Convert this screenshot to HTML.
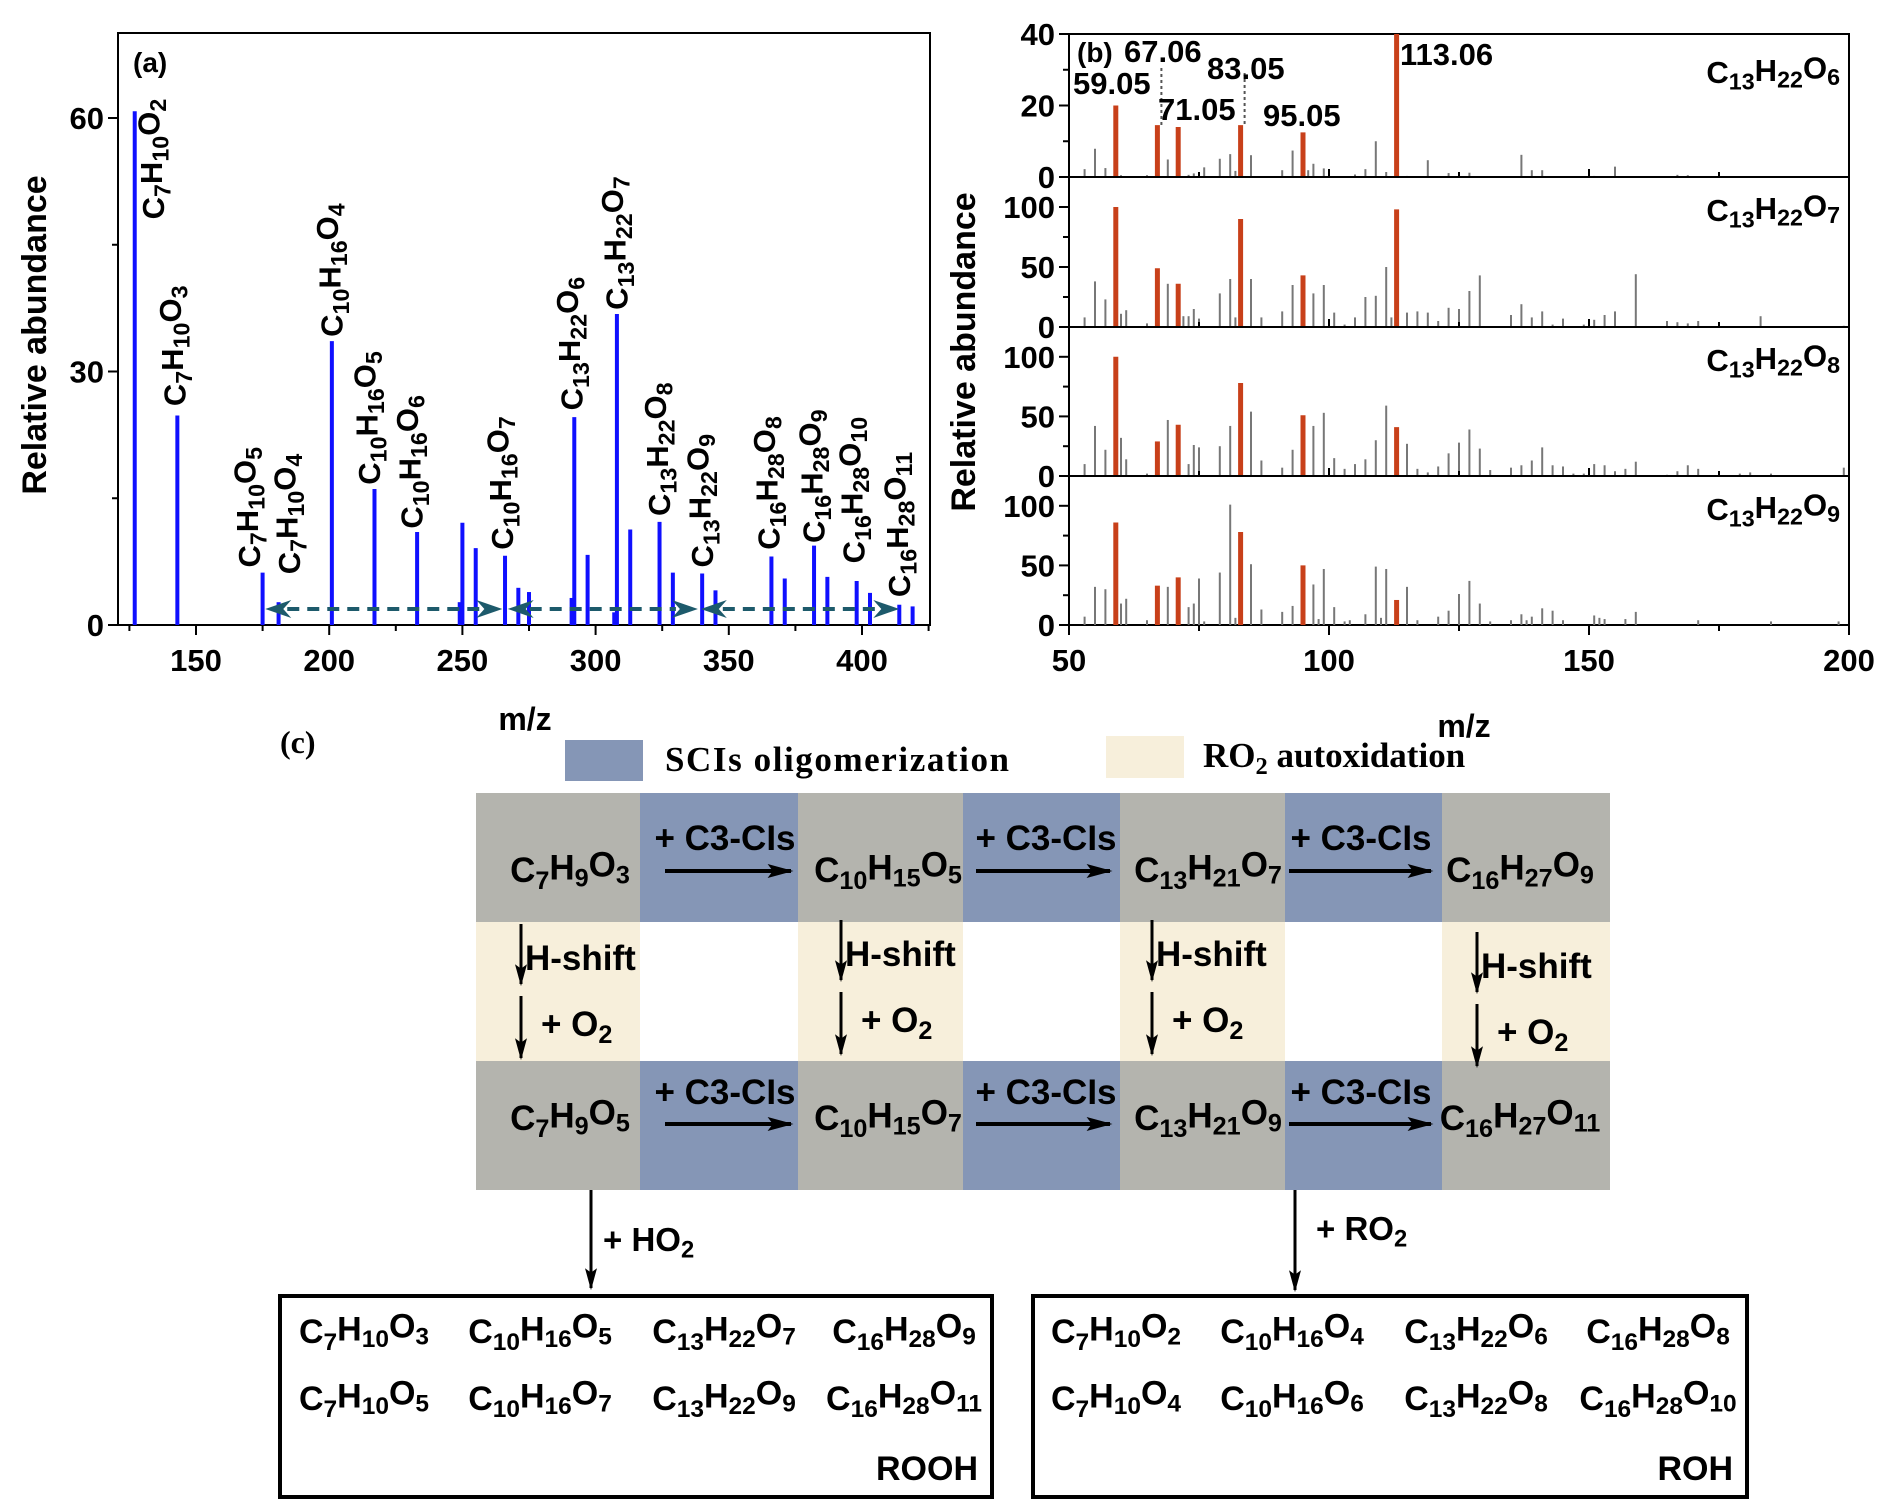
<!DOCTYPE html>
<html><head><meta charset="utf-8"><style>
html,body{margin:0;padding:0;background:#fff;}
svg{display:block;font-family:"Liberation Sans",Arial,sans-serif;}
</style></head><body>
<svg id="fig" width="1892" height="1511" viewBox="0 0 1892 1511" xmlns="http://www.w3.org/2000/svg">
<defs>
<marker id="ah" viewBox="0 0 10 10" refX="9" refY="5" markerWidth="26" markerHeight="14" preserveAspectRatio="none" orient="auto-start-reverse" markerUnits="userSpaceOnUse"><path d="M0,0 L10,5 L0,10 L2,5 z" fill="#000"/></marker>
<marker id="ahv" viewBox="0 0 10 10" refX="9" refY="5" markerWidth="22" markerHeight="12" preserveAspectRatio="none" orient="auto-start-reverse" markerUnits="userSpaceOnUse"><path d="M0,0 L10,5 L0,10 L2,5 z" fill="#000"/></marker>
</defs>
<g id="pa"></g>
<g id="pb"></g>
<g id="pc"></g>
</svg>
<script>
// ---------- Panel (a) data ----------
const aMz=[127,143,175,181,201,217,233,249,250,255,266,271,275,291,292,297,307,308,313,324,329,340,345,366,371,382,387,398,403,414,419];
const aVal=[60.8,24.8,6.2,2.7,33.6,16.1,11.0,2.7,12.1,9.1,8.2,4.4,3.9,3.2,24.6,8.3,1.5,36.8,11.3,12.2,6.2,6.1,4.1,8.1,5.5,9.4,5.7,5.2,3.8,2.4,2.2];
const aLabelText=["C7H10O2","C7H10O3","C7H10O5","C7H10O4","C10H16O4","C10H16O5","C10H16O6","C10H16O7","C13H22O6","C13H22O7","C13H22O8","C13H22O9","C16H28O8","C16H28O9","C16H28O10","C16H28O11"];
const aLabelMz=[138,146,174,189,205,219,235,269,295,312,328,344,369,386,401,418];
const aLabelVal=[48.0,25.9,6.8,6.0,34.1,16.6,11.4,8.9,25.4,37.3,12.9,6.8,8.9,9.7,7.3,3.3];
const aArrowFrom=[176,267,339.5];
const aArrowTo=[265,338.4,414];
const aArrowVal=1.9;
const aXTicks=[150,200,250,300,350,400];
const aYTicks=[0,30,60];
// ---------- Panel (b) data ----------
const bRedMz=[59,67,71,83,95,113];
const bRed1=[20,14.5,14,14.5,12.5,40];
const bRed2=[100,49,36,90,43,98];
const bRed3=[100,29,43,78,51,41];
const bRed4=[86,33,40,78,50,21];
const bGMz1=[53,55,57,60,65,69,73,74,76,79,81,82,85,91,93,96,97,99,105,107,109,111,115,119,123,125,127,137,139,141,151,155,167,169];
const bGVal1=[2.2,7.9,2.5,0.5,0.5,4.9,0.6,1,2.7,5.1,6.4,1.7,6.1,1.9,7.4,1.9,3.7,2.4,0.7,2.2,10,1.4,0.3,4.7,1.1,1.2,1.2,6.2,1.9,1.9,0.3,2.9,0.6,0.5];
const bGMz2=[53,55,57,60,61,65,69,72,73,74,75,79,81,82,85,87,91,93,97,99,101,103,105,107,109,111,112,115,117,119,121,123,125,127,129,135,137,139,141,143,145,149,151,153,155,159,165,167,169,171,183,199];
const bGVal2=[8,38,23,11,14,3,36,9,9,15,7,28,40,8,40,8,13,35,28,35,12,2,8,25,26,50,8,12,13,12,5,16,15,30,43,10,19,8,13,2,7,2,6,10,13,44,5,4,3,5,9,1];
const bGMz3=[53,55,57,60,61,65,69,73,74,75,79,81,85,87,91,93,97,99,101,103,105,107,109,111,115,117,119,121,123,125,127,129,131,135,137,139,141,143,145,147,149,151,153,155,157,159,165,167,169,171,175,179,181,185,199];
const bGVal3=[10,42,22,32,14,2,47,10,26,24,25,42,54,13,7,22,42,53,15,6,10,14,30,59,27,6,3,8,19,28,39,23,5,7,9,13,24,9,8,2,2,10,9,4,6,12,1,4,9,6,2,2,3,2,7];
const bGMz4=[53,55,57,60,61,65,69,73,74,75,76,79,81,82,85,87,91,93,97,98,99,101,103,104,107,109,110,111,115,117,121,123,125,127,129,131,135,137,138,139,141,143,145,151,152,153,157,159,171,185,198];
const bGVal4=[7,32,30,18,22,4,32,15,18,39,3,44,101,6,51,13,11,16,34,5,47,15,3,4,9,49,6,47,32,4,7,12,26,37,18,3,4,9,4,7,14,12,4,8,6,5,5,11,4,3,3];
const bNames=["C13H22O6","C13H22O7","C13H22O8","C13H22O9"];
const bPeakLabels=["59.05","67.06","71.05","83.05","95.05","113.06"];
const bXTicks=[50,100,150,200];

const NS="http://www.w3.org/2000/svg";
function mk(parent,tag,attrs){const e=document.createElementNS(NS,tag);for(const k in attrs)e.setAttribute(k,attrs[k]);parent.appendChild(e);return e;}
function formula(t,str,subScale){
  const parts=str.match(/[A-Za-z\-\+ ]+|\d+/g);
  let sub=false;
  parts.forEach(p=>{
    const ts=document.createElementNS(NS,'tspan');
    if(/^\d+$/.test(p)){
      ts.setAttribute('font-size',(subScale*100)+'%');
      ts.setAttribute('dy',sub?'0':'0.28em');
      sub=true;
    } else {
      if(sub){ts.setAttribute('dy','-0.28em');}
      sub=false;
    }
    ts.textContent=p;t.appendChild(ts);
  });
  if(sub){const ts=document.createElementNS(NS,'tspan');ts.setAttribute('dy','-0.28em');ts.textContent='\u200b';t.appendChild(ts);}
}

// ================= Panel A =================
(function(){
  const g=document.getElementById('pa');
  const L=118,R=930,T=33,B=625;
  const xA=m=>196+(m-150)*2.664;
  const yA=v=>B-v*8.45;
  mk(g,'rect',{x:L,y:T,width:R-L,height:B-T,fill:'none',stroke:'#000','stroke-width':2});
  [0,15,30,45,60].forEach(v=>{const major=aYTicks.includes(v);
    const tk=mk(g,'line',{x1:L,x2:L-(major?10:6),y1:yA(v),y2:yA(v),stroke:'#000','stroke-width':2});
    });
  aYTicks.forEach(v=>{const t=mk(g,'text',{x:L-14,y:yA(v)+11,'text-anchor':'end','font-size':31,'font-weight':'bold'});
    t.textContent=v;});
  for(let m=125;m<=425;m+=25){if(xA(m)<L||xA(m)>R)continue;const major=m%50===0;
    const tk=mk(g,'line',{x1:xA(m),x2:xA(m),y1:B,y2:B+(major?10:6),stroke:'#000','stroke-width':2});
    }
  aXTicks.forEach(m=>{const t=mk(g,'text',{x:xA(m),y:B+46,'text-anchor':'middle','font-size':31,'font-weight':'bold'});
    t.textContent=m;});
  aMz.forEach((m,i)=>{const b=mk(g,'line',{x1:xA(m),x2:xA(m),y1:B,y2:yA(aVal[i]),stroke:'#1010ff','stroke-width':4});
    });
  aArrowFrom.forEach((f,i)=>{const y=yA(aArrowVal),x1=xA(f),x2=xA(aArrowTo[i]);
    const l=mk(g,'line',{x1:x1+22,x2:x2-22,y1:y,y2:y,stroke:'#1d5a6b','stroke-width':4,'stroke-dasharray':'12,8'});
    
    mk(g,'path',{d:`M${x1},${y} L${x1+26},${y-9} L${x1+18},${y} L${x1+26},${y+9} Z`,fill:'#1d5a6b'});
    mk(g,'path',{d:`M${x2},${y} L${x2-26},${y-9} L${x2-18},${y} L${x2-26},${y+9} Z`,fill:'#1d5a6b'});
  });
  aLabelText.forEach((s,i)=>{const x=xA(aLabelMz[i]),y=yA(aLabelVal[i]);
    const t=mk(g,'text',{transform:`translate(${x},${y}) rotate(-90)`,'font-size':31,'font-weight':'bold'});
    
    formula(t,s,0.75);});
  const pa=mk(g,'text',{x:133,y:72,'font-size':28,'font-weight':'bold'});pa.textContent='(a)';
  
  const yl=mk(g,'text',{transform:'translate(46,335) rotate(-90)','text-anchor':'middle','font-size':34,'font-weight':'bold'});
  yl.textContent='Relative abundance';
  const xl=mk(g,'text',{x:525,y:730,'text-anchor':'middle','font-size':32,'font-weight':'bold'});
  xl.textContent='m/z';
})();

// ================= Panel B =================
(function(){
  const g=document.getElementById('pb');
  const L=1069,R=1849;
  const xB=m=>L+(m-50)/150*(R-L);
  const panels=[
    {top:34,zero:177,max:40,ticks:[0,20,40],minor:[10,30],red:bRed1,gm:bGMz1,gv:bGVal1},
    {top:177,zero:327,max:125,ticks:[0,50,100],minor:[25,75],red:bRed2,gm:bGMz2,gv:bGVal2},
    {top:327,zero:476,max:125,ticks:[0,50,100],minor:[25,75],red:bRed3,gm:bGMz3,gv:bGVal3},
    {top:476,zero:625,max:125,ticks:[0,50,100],minor:[25,75],red:bRed4,gm:bGMz4,gv:bGVal4}];
  panels.forEach((p,pi)=>{
    const yB=v=>p.zero-v*(p.zero-p.top)/p.max;
    mk(g,'rect',{x:L,y:p.top,width:R-L,height:p.zero-p.top,fill:'none',stroke:'#000','stroke-width':2});
    p.ticks.concat(p.minor).forEach(v=>{const major=p.ticks.includes(v);
      mk(g,'line',{x1:L,x2:L-(major?10:6),y1:yB(v),y2:yB(v),stroke:'#000','stroke-width':2});});
    p.ticks.forEach(v=>{const t=mk(g,'text',{x:L-14,y:yB(v)+11,'text-anchor':'end','font-size':31,'font-weight':'bold'});
      t.textContent=v;});
    p.gm.forEach((m,i)=>{const b=mk(g,'line',{x1:xB(m),x2:xB(m),y1:p.zero,y2:yB(p.gv[i]),stroke:'#777','stroke-width':2});
      });
    bRedMz.forEach((m,i)=>{const b=mk(g,'line',{x1:xB(m),x2:xB(m),y1:p.zero,y2:yB(p.red[i]),stroke:'#c8401a','stroke-width':5});
      });
    const nm=mk(g,'text',{x:1840,y:p.top+(pi===0?49:44),'text-anchor':'end','font-size':31,'font-weight':'bold'});
    
    formula(nm,bNames[pi],0.75);
    if(pi===0){
      [[1,93],[3,98]].forEach(([k,yt])=>{mk(g,'line',{x1:xB(bRedMz[k])+4,x2:xB(bRedMz[k])+4,y1:yt-25,y2:yB(p.red[k]),stroke:'#555','stroke-width':2,'stroke-dasharray':'3,3'});});
      const pos=[[1073,94],[1124,62],[1158,120],[1207,79],[1263,126],[1400,65]];
      bPeakLabels.forEach((s,i)=>{const t=mk(g,'text',{x:pos[i][0],y:pos[i][1],'font-size':31,'font-weight':'bold'});
        t.textContent=s;});
      const tb=mk(g,'text',{x:1077,y:62,'font-size':28,'font-weight':'bold'});tb.textContent='(b)';
      
    }
  });
  for(let m=50;m<=200;m+=25){const major=m%50===0;
    mk(g,'line',{x1:xB(m),x2:xB(m),y1:625,y2:625+(major?10:6),stroke:'#000','stroke-width':2});
    [177,327,476].forEach(yy=>mk(g,'line',{x1:xB(m),x2:xB(m),y1:yy,y2:yy-(major?8:5),stroke:'#000','stroke-width':2}));}
  bXTicks.forEach(m=>{const t=mk(g,'text',{x:xB(m),y:671,'text-anchor':'middle','font-size':31,'font-weight':'bold'});
    t.textContent=m;});
  const yl=mk(g,'text',{transform:'translate(975,352) rotate(-90)','text-anchor':'middle','font-size':34,'font-weight':'bold'});
  yl.textContent='Relative abundance';
  const xl=mk(g,'text',{x:1464,y:737,'text-anchor':'middle','font-size':32,'font-weight':'bold'});
  xl.textContent='m/z';
})();

// ================= Panel C =================
(function(){
  const g=document.getElementById('pc');
  const GRAY='#b4b4ae',BLUE='#8596b6',BEIGE='#f7efdb';
  const colX=[476,640,798,963,1120,1285,1442,1610];
  const rowY=[793,922,1061,1190];
  for(let c=0;c<7;c++){
    const isBlue=c%2===1;
    mk(g,'rect',{x:colX[c],y:rowY[0],width:colX[c+1]-colX[c],height:rowY[1]-rowY[0],fill:isBlue?BLUE:GRAY});
    mk(g,'rect',{x:colX[c],y:rowY[2],width:colX[c+1]-colX[c],height:rowY[3]-rowY[2],fill:isBlue?BLUE:GRAY});
    if(!isBlue)mk(g,'rect',{x:colX[c],y:rowY[1],width:colX[c+1]-colX[c],height:rowY[2]-rowY[1],fill:BEIGE});
  }
  const tc=mk(g,'text',{x:280,y:753,'font-family':'Liberation Serif, serif','font-size':32,'font-weight':'bold'});tc.textContent='(c)';
  
  const lb1=mk(g,'rect',{x:565,y:740,width:78,height:41,fill:BLUE});
  const lt1=mk(g,'text',{x:665,y:771,'font-family':'Liberation Serif, serif','font-size':35,'font-weight':'bold',textLength:344});
  lt1.textContent='SCIs oligomerization';
  const lb2=mk(g,'rect',{x:1106,y:736,width:78,height:42,fill:BEIGE});
  const lt2=mk(g,'text',{x:1203,y:767,'font-family':'Liberation Serif, serif','font-size':35,'font-weight':'bold'});
  
  lt2.innerHTML='RO<tspan font-size="70%" dy="7">2</tspan><tspan dy="-7"> autoxidation</tspan>';
  const top=['C7H9O3','C10H15O5','C13H21O7','C16H27O9'];
  const bot=['C7H9O5','C10H15O7','C13H21O9','C16H27O11'];
  const fx=[570,888,1208,1520];
  top.forEach((s,i)=>{const t=mk(g,'text',{x:fx[i],y:882,'text-anchor':'middle','font-size':35,'font-weight':'bold'});
    formula(t,s,0.72);});
  bot.forEach((s,i)=>{const t=mk(g,'text',{x:fx[i],y:1130,'text-anchor':'middle','font-size':35,'font-weight':'bold'});
    formula(t,s,0.72);});
  const ax=[[665,791,725],[976,1110,1046],[1289,1431,1361]];
  ax.forEach(([x1,x2,cx])=>{
    [[871,850],[1124,1104]].forEach(([ya,yt])=>{
      const a=mk(g,'line',{x1:x1,x2:x2,y1:ya,y2:ya,stroke:'#000','stroke-width':4,'marker-end':'url(#ah)'});
      
      const t=mk(g,'text',{x:cx,y:yt,'text-anchor':'middle','font-size':35,'font-weight':'bold'});t.textContent='+ C3-CIs';
      
    });
  });
  const dx=[[521,0],[841,-4],[1152,-4],[1477,8]];
  dx.forEach(([x,o])=>{
    mk(g,'line',{x1:x,x2:x,y1:924+o,y2:984+o,stroke:'#000','stroke-width':3,'marker-end':'url(#ahv)'});
    mk(g,'line',{x1:x,x2:x,y1:996+o,y2:1058+o,stroke:'#000','stroke-width':3,'marker-end':'url(#ahv)'});
    const t1=mk(g,'text',{x:x+4,y:970+o,'font-size':35,'font-weight':'bold'});t1.textContent='H-shift';
    
    const t2=mk(g,'text',{x:x+20,y:1036+o,'font-size':35,'font-weight':'bold'});
    formula(t2,'+ O2',0.72);
  });
  mk(g,'line',{x1:591,x2:591,y1:1190,y2:1288,stroke:'#000','stroke-width':3,'marker-end':'url(#ahv)'});
  mk(g,'line',{x1:1295,x2:1295,y1:1190,y2:1290,stroke:'#000','stroke-width':3,'marker-end':'url(#ahv)'});
  const h=mk(g,'text',{x:603,y:1251,'font-size':33,'font-weight':'bold'});formula(h,'+ HO2',0.72);
  
  const r=mk(g,'text',{x:1316,y:1240,'font-size':33,'font-weight':'bold'});formula(r,'+ RO2',0.72);
  
  const boxes=[{x:280,w:712,items:[['C7H10O3','C10H16O5','C13H22O7','C16H28O9'],['C7H10O5','C10H16O7','C13H22O9','C16H28O11']],cx:[364,540,724,904],tag:'ROOH',tx:978,name:'rooh-box'},
               {x:1033,w:714,items:[['C7H10O2','C10H16O4','C13H22O6','C16H28O8'],['C7H10O4','C10H16O6','C13H22O8','C16H28O10']],cx:[1116,1292,1476,1658],tag:'ROH',tx:1733,name:'roh-box'}];
  boxes.forEach(b=>{
    const bx=mk(g,'rect',{x:b.x,y:1296,width:b.w,height:201,fill:'none',stroke:'#000','stroke-width':4});
    
    b.items.forEach((row,ri)=>row.forEach((s,ci)=>{
      const t=mk(g,'text',{x:b.cx[ci],y:ri?1410:1343,'text-anchor':'middle','font-size':34,'font-weight':'bold'});
      formula(t,s,0.72);}));
    const tg=mk(g,'text',{x:b.tx,y:1480,'text-anchor':'end','font-size':34,'font-weight':'bold'});tg.textContent=b.tag;
    
  });
})();
</script>
</body></html>
